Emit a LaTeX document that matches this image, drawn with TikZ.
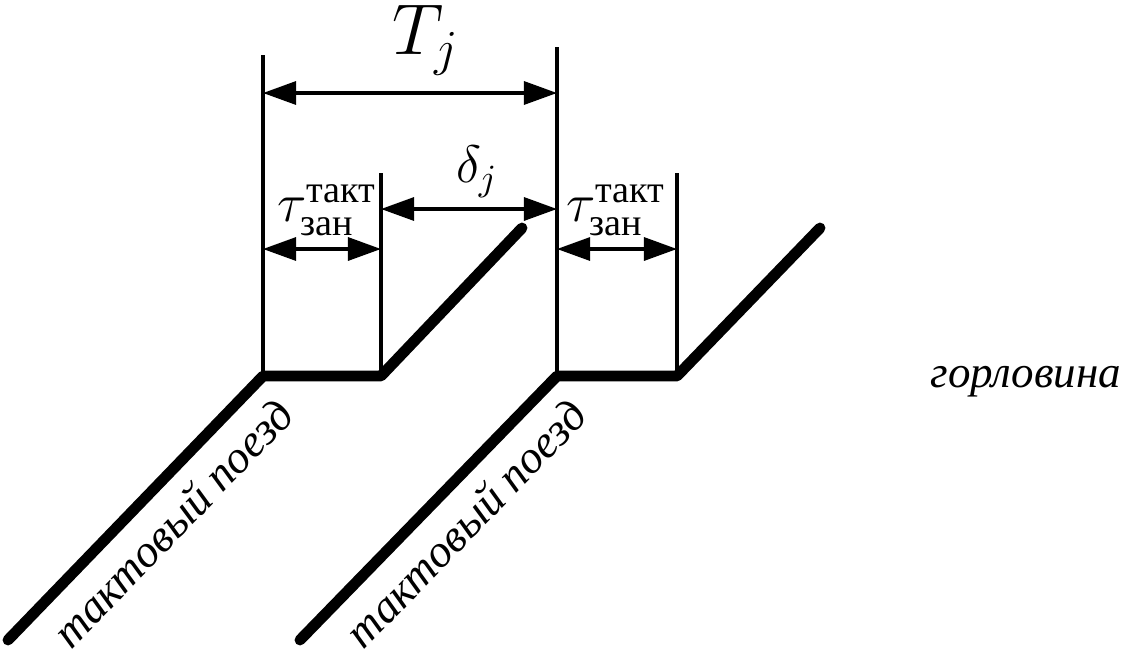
\RequirePackage{fix-cm}
\documentclass[tikz,border=0pt]{standalone}
\usepackage{amsmath}
\usepackage{fontspec}
\setmainfont{Liberation Serif}
\usetikzlibrary{arrows.meta}

\begin{document}
\begin{tikzpicture}[x=0.01cm, y=-0.01cm,
  guide/.style={line width=0.9pt},
  dim/.style={line width=0.9pt, {Triangle[length=0.33cm,width=0.23cm]}-{Triangle[length=0.33cm,width=0.23cm]}},
  track/.style={line width=3.1pt, line cap=round, line join=round},
  trainlbl/.style={pos=0.54, sloped, anchor=center, yshift=-0.37cm, font=\fontsize{13}{16}\selectfont\itshape}]

\useasboundingbox (0,0) rectangle (1130,660);

% track points
\coordinate (a0) at (8,640);
\coordinate (a1) at (263,376);
\coordinate (a2) at (381,376);
\coordinate (a3) at (522,228);
\coordinate (b0) at (300,640);
\coordinate (b1) at (557,376);
\coordinate (b2) at (677,376);
\coordinate (b3) at (820,228);

% tops of the guide lines
\coordinate (a1t) at (263,55);
\coordinate (a2t) at (381,173);
\coordinate (b1t) at (557,47);
\coordinate (b2t) at (677,173);

% arrow ends
\coordinate (T1) at (263,93);
\coordinate (T2) at (557,93);
\coordinate (d1) at (381,209);
\coordinate (d2) at (557,209);
\coordinate (z1) at (263,249);
\coordinate (z2) at (381,249);
\coordinate (z3) at (557,249);
\coordinate (z4) at (677,249);

\draw[guide] (a1) -- (a1t);
\draw[guide] (a2) -- (a2t);
\draw[guide] (b1) -- (b1t);
\draw[guide] (b2) -- (b2t);

\draw[dim] (T1) -- (T2);
\draw[dim] (d1) -- (d2);
\draw[dim] (z1) -- (z2);
\draw[dim] (z3) -- (z4);

\draw[track] (a0) -- (a1) -- (a2) -- (a3);
\draw[track] (b0) -- (b1) -- (b2) -- (b3);

\node (Tl) at (426,40) {\fontsize{20.5}{25}\selectfont $T_j$};
\node (dl) at (477,172) {\fontsize{15}{18}\selectfont $\delta_j$};
\node (tl1) at (327,210) {\fontsize{15.5}{18}\selectfont $\tau^{\text{такт}}_{\text{зан}}$};
\node (tl2) at (616,210) {\fontsize{15.5}{18}\selectfont $\tau^{\text{такт}}_{\text{зан}}$};
\node[anchor=base west, inner sep=0pt] (gl) at (930,387) {\fontsize{12.8}{15}\selectfont\itshape горловина};

\path (a0) -- (a1) node[trainlbl] (tr1) {тактовый поезд};
\path (b0) -- (b1) node[trainlbl] (tr2) {тактовый поезд};

\end{tikzpicture}
\end{document}
